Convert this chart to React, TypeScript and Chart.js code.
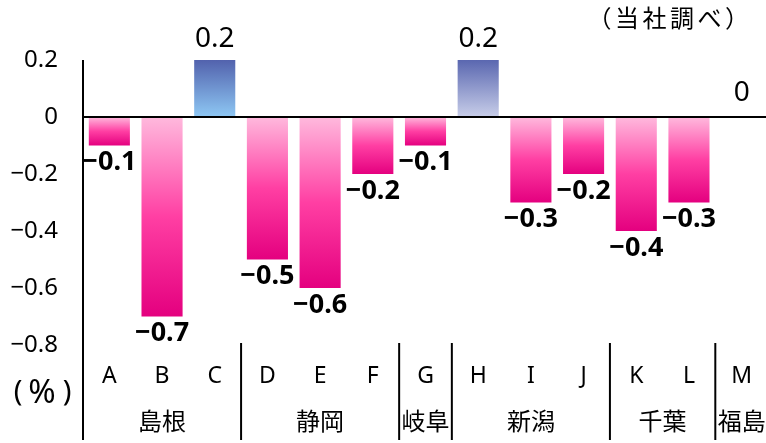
import React, { useEffect, useRef } from 'react';
import { Chart, registerables } from 'chart.js';

Chart.register(...registerables);

const categories = ['A', 'B', 'C', 'D', 'E', 'F', 'G', 'H', 'I', 'J', 'K', 'L', 'M'];
const values = [-0.1, -0.7, 0.2, -0.5, -0.6, -0.2, -0.1, 0.2, -0.3, -0.2, -0.4, -0.3, 0];
const valueLabels = ['−0.1', '−0.7', '0.2', '−0.5', '−0.6', '−0.2', '−0.1', '0.2', '−0.3', '−0.2', '−0.4', '−0.3', '0'];
const groupNames = ['島根', '静岡', '岐阜', '新潟', '千葉', '福島'];
const groupSizes = [3, 3, 1, 3, 2, 1];
const yTickValues = [0.2, 0, -0.2, -0.4, -0.6, -0.8];
const yTickLabels = ['0.2', '0', '−0.2', '−0.4', '−0.6', '−0.8'];
const unitParts = ['(', '%', ')'];
const sourceNote = '（当社調べ）';

const negGradient = ['#ffb9dd', '#ff3fa3', '#e4007f'];
const posGradientC = ['#5262ad', '#8ec8f4'];
const posGradientH = ['#5a67b0', '#c8cee9'];
const barGradients = [
  negGradient, negGradient, posGradientC, negGradient, negGradient, negGradient,
  negGradient, posGradientH, negGradient, negGradient, negGradient, negGradient, negGradient,
];

const NUM_FONT = '"Noto Sans", "Noto Sans CJK JP", sans-serif';
const JP_FONT = '"Noto Sans CJK JP", "Noto Sans", sans-serif';

const overlayPlugin = {
  id: 'overlay',
  afterDatasetsDraw(chart: any) {
    const { ctx, chartArea, scales } = chart;
    const xs = scales.x;
    const ys = scales.y;
    const y0 = ys.getPixelForValue(0);
    const n = categories.length;
    const cell = (chartArea.right - chartArea.left) / n;
    const bottomLine = 440;
    ctx.save();
    // zero line
    ctx.strokeStyle = '#000';
    ctx.lineWidth = 2;
    ctx.beginPath();
    ctx.moveTo(chartArea.left, y0);
    ctx.lineTo(chartArea.right, y0);
    ctx.stroke();
    // y axis line
    ctx.beginPath();
    ctx.moveTo(chartArea.left, chartArea.top);
    ctx.lineTo(chartArea.left, bottomLine);
    ctx.stroke();
    // group separators
    let idx = 0;
    const groupCenters: number[] = [];
    groupSizes.forEach((size, g) => {
      const startX = xs.getPixelForValue(idx) - cell / 2;
      const endX = xs.getPixelForValue(idx + size - 1) + cell / 2;
      groupCenters.push((startX + endX) / 2);
      if (g > 0) {
        ctx.beginPath();
        ctx.moveTo(startX, chartArea.bottom - 2);
        ctx.lineTo(startX, bottomLine);
        ctx.stroke();
      }
      idx += size;
    });
    // category letters
    ctx.fillStyle = '#000';
    ctx.textAlign = 'center';
    ctx.textBaseline = 'middle';
    ctx.font = `23px ${NUM_FONT}`;
    categories.forEach((c, i) => {
      ctx.fillText(c, xs.getPixelForValue(i), chartArea.bottom + 31);
    });
    // group names
    ctx.font = `24px ${JP_FONT}`;
    groupNames.forEach((gname, g) => {
      ctx.fillText(gname, groupCenters[g], chartArea.bottom + 76);
    });
    // value labels
    const meta = chart.getDatasetMeta(0);
    meta.data.forEach((bar: any, i: number) => {
      const v = values[i];
      if (v < 0) {
        ctx.font = `bold 27px ${NUM_FONT}`;
        ctx.fillText(valueLabels[i], bar.x, bar.y + 17);
      } else {
        ctx.font = `28px ${NUM_FONT}`;
        ctx.fillText(valueLabels[i], bar.x, bar.y - (v === 0 ? 24 : 21));
      }
    });
    // unit label "(%)"
    const unitY = chartArea.bottom + 49;
    ctx.font = `29px ${NUM_FONT}`;
    ctx.fillText(unitParts[0], 18, unitY - 1);
    ctx.fillText(unitParts[2], 67, unitY - 1);
    ctx.font = `33px ${NUM_FONT}`;
    ctx.fillText(unitParts[1], 42, unitY);
    // source note
    ctx.font = `24px ${JP_FONT}`;
    (ctx as any).letterSpacing = '3.5px';
    ctx.fillText(sourceNote, 670, 18);
    (ctx as any).letterSpacing = '0px';
    ctx.restore();
  },
};

export default function App() {
  const canvasRef = useRef<HTMLCanvasElement | null>(null);

  useEffect(() => {
    document.body.style.margin = '0';
    document.body.style.overflow = 'hidden';
    const canvas = canvasRef.current;
    if (!canvas) return;
    const chart = new Chart(canvas, {
      type: 'bar',
      data: {
        labels: categories,
        datasets: [
          {
            data: values,
            barPercentage: 0.78,
            categoryPercentage: 1,
            borderWidth: 0,
            backgroundColor: (c: any) => {
              const i = c.dataIndex;
              const chartObj = c.chart;
              const ys = chartObj.scales?.y;
              if (i === undefined || !ys || !chartObj.chartArea) return '#e4007f';
              const stops = barGradients[i];
              const p0 = ys.getPixelForValue(0);
              const pv = ys.getPixelForValue(values[i]);
              const top = Math.min(p0, pv);
              const bot = Math.max(p0, pv) + 0.001;
              const g = chartObj.ctx.createLinearGradient(0, top, 0, bot);
              stops.forEach((s: string, k: number) => g.addColorStop(k / (stops.length - 1), s));
              return g;
            },
          },
        ],
      },
      options: {
        animation: false,
        responsive: false,
        maintainAspectRatio: false,
        layout: { padding: { top: 60, bottom: 98, left: 0, right: 0 } },
        plugins: {
          legend: { display: false },
          tooltip: { enabled: false },
        },
        scales: {
          x: {
            display: false,
            offset: true,
            grid: { display: false },
          },
          y: {
            min: -0.8,
            max: 0.2,
            afterFit: (s: any) => {
              s.width = 83;
            },
            grid: { display: false, drawTicks: false },
            border: { display: false },
            ticks: {
              stepSize: 0.2,
              padding: 25,
              color: '#000',
              font: { family: NUM_FONT, size: 24 },
              callback: (v: any) => {
                const k = yTickValues.findIndex((t) => Math.abs(t - Number(v)) < 1e-6);
                return k >= 0 ? yTickLabels[k] : '';
              },
            },
          },
        },
      },
      plugins: [overlayPlugin],
    });
    return () => chart.destroy();
  }, []);

  return (
    <div style={{ width: 766, height: 443, overflow: 'hidden', background: '#fff' }}>
      <canvas ref={canvasRef} width={768} height={443} style={{ width: 768, height: 443, display: 'block' }} />
    </div>
  );
}
